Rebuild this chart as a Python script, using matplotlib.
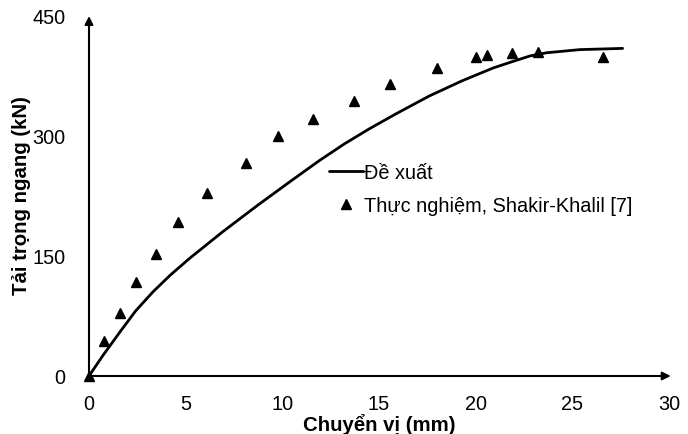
import matplotlib
matplotlib.use("Agg")
import matplotlib.pyplot as plt

plt.rcParams['font.family'] = ['Liberation Sans', 'DejaVu Sans']

# Proposed model curve (Đề xuất)
curve_x = [0, 0.7, 1.6, 2.4, 3.3, 4.2, 5.2, 6.9, 8.7, 10.4, 11.9, 13.2,
           14.5, 15.9, 17.6, 19.3, 20.9, 21.9, 22.8, 23.65, 25.4, 27.6]
curve_y = [0, 25, 55, 81, 105, 126, 147, 180, 213, 243, 269, 290,
           309, 328, 350, 369, 385, 393, 400, 404, 408, 409.5]

# Experimental data (Thực nghiệm, Shakir-Khalil [7])
exp_x = [0, 0.78, 1.6, 2.43, 3.46, 4.6, 6.1, 8.1, 9.8, 11.6, 13.7, 15.55,
         18.0, 20.0, 20.6, 21.9, 23.2, 26.6]
exp_y = [0, 44, 79, 117, 152, 192, 229, 266, 300, 321, 344, 365,
         385, 399, 401, 404, 405, 399]

x_ticks = [0, 5, 10, 15, 20, 25, 30]
y_ticks = [0, 150, 300, 450]

fig = plt.figure(figsize=(6.88, 4.35), dpi=100)
W, H = 688, 435
x0, x1 = 89, 669
y0, y1 = 377, 17
ax = fig.add_axes([x0 / W, 1 - y0 / H, (x1 - x0) / W, (y0 - y1) / H])
ax.set_xlim(0, 30)
ax.set_ylim(0, 450)
for s in ax.spines.values():
    s.set_visible(False)

# axes with arrows
ax.annotate('', xy=(0, 1.0), xytext=(0, 0), xycoords='axes fraction',
            arrowprops=dict(arrowstyle='-|>', color='black', lw=1.5,
                            mutation_scale=12, shrinkA=0, shrinkB=0),
            annotation_clip=False)
ax.annotate('', xy=(1.003, 0), xytext=(0, 0), xycoords='axes fraction',
            arrowprops=dict(arrowstyle='-|>', color='black', lw=1.5,
                            mutation_scale=12, shrinkA=0, shrinkB=0),
            annotation_clip=False)

ax.plot(curve_x, curve_y, color='black', lw=2.0, label='Đề xuất',
        solid_joinstyle='round', solid_capstyle='round', clip_on=False)
ax.plot(exp_x, exp_y, linestyle='none', marker='^', color='black',
        markersize=7, label='Thực nghiệm, Shakir-Khalil [7]', clip_on=False)

ax.set_xticks(x_ticks)
ax.set_yticks(y_ticks)
ax.tick_params(length=0, labelsize=14.3)
ax.tick_params(axis='x', pad=13)
ax.tick_params(axis='y', pad=17)

ax.set_xlabel('Chuyển vị (mm)', fontsize=14.7, fontweight='bold', labelpad=0)
ax.set_ylabel('Tải trọng ngang (kN)', fontsize=14.7, fontweight='bold')
ax.yaxis.set_label_coords(-0.100, 0.505)

ax.legend(loc='upper left', bbox_to_anchor=(0.40, 0.615), frameon=False,
          fontsize=14.3, handlelength=1.7, handletextpad=0.05,
          labelspacing=0.75, borderaxespad=0)

fig.savefig('out.png', dpi=100)
